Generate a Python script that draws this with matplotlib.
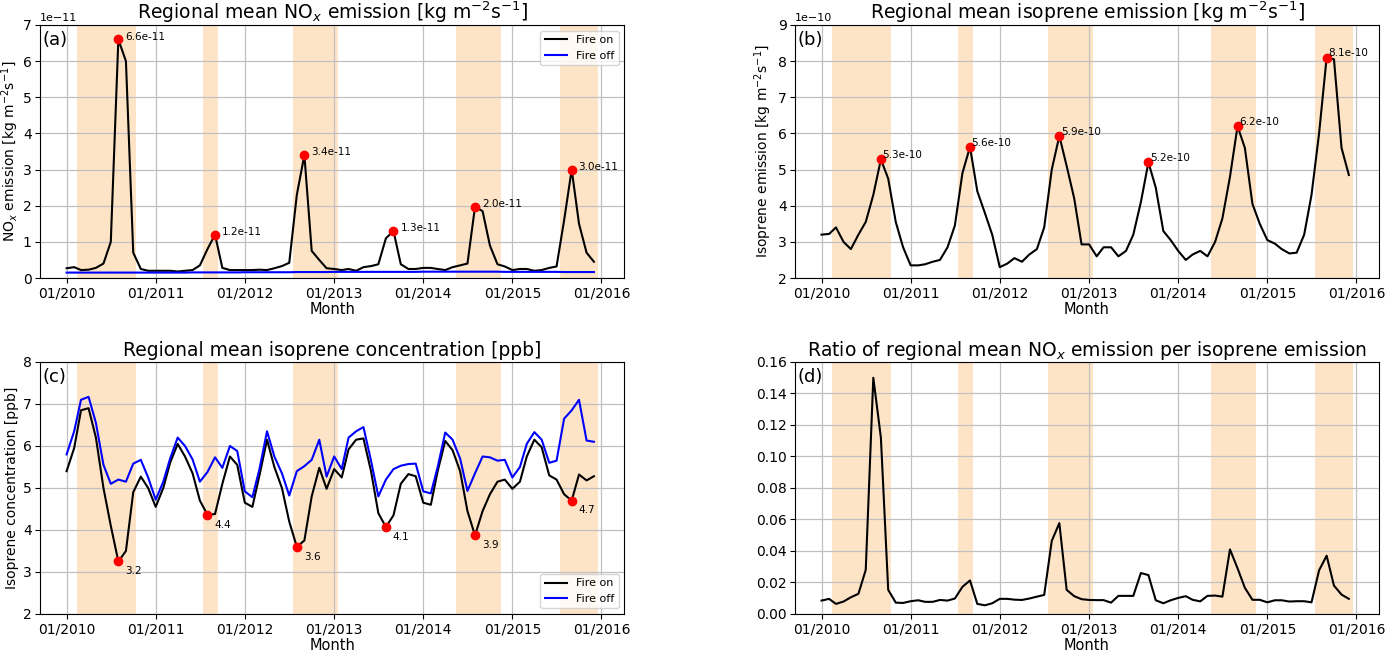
import matplotlib
matplotlib.use("Agg")
import matplotlib.pyplot as plt
import matplotlib.dates as mdates
import numpy as np
import pandas as pd

months = pd.date_range("2010-01-01", periods=72, freq="MS")

# NOx emission [1e-11 kg m-2 s-1]
nox_on = np.array([
    0.27, 0.30, 0.22, 0.23, 0.28, 0.40, 1.00, 6.60, 6.00, 0.70, 0.25, 0.20,
    0.20, 0.20, 0.20, 0.18, 0.20, 0.22, 0.35, 0.80, 1.20, 0.28, 0.22, 0.22,
    0.22, 0.22, 0.23, 0.22, 0.27, 0.33, 0.42, 2.30, 3.40, 0.75, 0.50, 0.27,
    0.25, 0.22, 0.25, 0.20, 0.30, 0.33, 0.38, 1.10, 1.30, 0.38, 0.25, 0.25,
    0.28, 0.28, 0.25, 0.22, 0.30, 0.35, 0.40, 1.97, 1.85, 0.90, 0.38, 0.32,
    0.22, 0.25, 0.25, 0.20, 0.22, 0.28, 0.32, 1.60, 3.00, 1.50, 0.70, 0.45]) * 1e-11
nox_off = np.array([
    0.15, 0.15, 0.15, 0.15, 0.15, 0.15, 0.15, 0.15, 0.15, 0.15, 0.15, 0.15,
    0.15, 0.15, 0.15, 0.15, 0.15, 0.155, 0.155, 0.155, 0.155, 0.155, 0.155, 0.155,
    0.16, 0.16, 0.16, 0.16, 0.16, 0.16, 0.16, 0.165, 0.165, 0.165, 0.165, 0.165,
    0.17, 0.17, 0.17, 0.17, 0.17, 0.17, 0.17, 0.17, 0.17, 0.17, 0.17, 0.17,
    0.175, 0.175, 0.175, 0.175, 0.175, 0.175, 0.175, 0.175, 0.175, 0.175, 0.175, 0.17,
    0.17, 0.17, 0.17, 0.17, 0.17, 0.17, 0.17, 0.165, 0.165, 0.165, 0.165, 0.165]) * 1e-11

# isoprene emission [1e-10 kg m-2 s-1]
isop_emis = np.array([
    3.20, 3.22, 3.40, 3.00, 2.80, 3.20, 3.55, 4.30, 5.28, 4.75, 3.55, 2.85,
    2.35, 2.35, 2.38, 2.45, 2.50, 2.85, 3.45, 4.90, 5.63, 4.40, 3.80, 3.20,
    2.30, 2.40, 2.55, 2.45, 2.65, 2.80, 3.40, 5.00, 5.93, 5.10, 4.20, 2.93,
    2.93, 2.60, 2.85, 2.85, 2.60, 2.75, 3.20, 4.10, 5.20, 4.50, 3.30, 3.05,
    2.75, 2.50, 2.65, 2.75, 2.60, 3.00, 3.65, 4.80, 6.20, 5.60, 4.05, 3.50,
    3.05, 2.95, 2.80, 2.68, 2.70, 3.20, 4.30, 6.00, 8.10, 8.05, 5.60, 4.85]) * 1e-10

# isoprene concentration [ppb]
conc_on = np.array([
    5.40, 5.95, 6.85, 6.90, 6.20, 5.00, 4.10, 3.25, 3.50, 4.90, 5.27, 5.00,
    4.55, 5.00, 5.60, 6.05, 5.75, 5.35, 4.70, 4.36, 4.38, 5.10, 5.75, 5.55,
    4.65, 4.55, 5.30, 6.15, 5.50, 5.00, 4.20, 3.60, 3.75, 4.80, 5.48, 4.98,
    5.45, 5.25, 5.92, 6.15, 6.18, 5.40, 4.40, 4.07, 4.35, 5.10, 5.33, 5.28,
    4.65, 4.60, 5.40, 6.12, 5.90, 5.40, 4.45, 3.87, 4.45, 4.85, 5.15, 5.20,
    4.98, 5.15, 5.75, 6.15, 5.97, 5.30, 5.20, 4.85, 4.70, 5.32, 5.18, 5.28])
conc_off = np.array([
    5.80, 6.35, 7.10, 7.17, 6.55, 5.55, 5.10, 5.20, 5.15, 5.58, 5.67, 5.25,
    4.72, 5.15, 5.70, 6.20, 6.00, 5.68, 5.15, 5.38, 5.73, 5.48, 6.00, 5.88,
    4.92, 4.78, 5.45, 6.35, 5.75, 5.35, 4.82, 5.40, 5.52, 5.67, 6.15, 5.27,
    5.75, 5.45, 6.20, 6.35, 6.45, 5.65, 4.80, 5.20, 5.45, 5.53, 5.57, 5.58,
    4.92, 4.87, 5.50, 6.32, 6.15, 5.70, 4.93, 5.35, 5.75, 5.73, 5.65, 5.67,
    5.25, 5.50, 6.05, 6.33, 6.15, 5.60, 5.65, 6.65, 6.85, 7.10, 6.13, 6.10])

# NOx / isoprene emission ratio
ratio = np.array([
    .0085, .0096, .0064, .0079, .0106, .0128, .0280, .1500, .1120, .0153, .0072, .0070,
    .0081, .0087, .0077, .0077, .0089, .0085, .0098, .0172, .0213, .0064, .0055, .0068,
    .0096, .0096, .0091, .0089, .0098, .0110, .0121, .0464, .0577, .0153, .0113, .0094,
    .0089, .0088, .0088, .0072, .0115, .0115, .0115, .0260, .0247, .0087, .0068, .0087,
    .0102, .0113, .0090, .0080, .0115, .0117, .0110, .0410, .0290, .0166, .0090, .0090,
    .0074, .0087, .0087, .0079, .0081, .0081, .0074, .0277, .0370, .0180, .0123, .0096])

# fire seasons (shaded)
fire_seasons = [("2010-02-14", "2010-10-14"), ("2011-07-15", "2011-09-15"),
                ("2012-07-15", "2013-01-16"), ("2014-05-16", "2014-11-16"),
                ("2015-07-16", "2015-12-16")]

nox_peaks = [7, 20, 32, 44, 55, 68]
isop_peaks = [8, 20, 32, 44, 56, 68]
conc_mins = [7, 19, 31, 43, 55, 68]

shade = "#FEE4C6"

fig = plt.figure(figsize=(13.86, 6.54), dpi=100)
ax_a = fig.add_axes([0.0289, 0.5749, 0.4214, 0.3869])
ax_b = fig.add_axes([0.5736, 0.5749, 0.4214, 0.3869])
ax_c = fig.add_axes([0.0289, 0.0612, 0.4214, 0.3853])
ax_d = fig.add_axes([0.5736, 0.0612, 0.4214, 0.3853])


def setup(ax, label, title):
    for start, end in fire_seasons:
        ax.axvspan(pd.Timestamp(start), pd.Timestamp(end), color=shade, lw=0)
    ax.grid(True, color="#c0c0c0", lw=0.9)
    ax.xaxis.set_major_locator(mdates.YearLocator())
    ax.xaxis.set_major_formatter(mdates.DateFormatter("%m/%Y"))
    ax.tick_params(labelsize=10, pad=2.5)
    ax.yaxis.get_offset_text().set_fontsize(8)
    ax.set_xlabel("Month", fontsize=10.5, labelpad=1)
    ax.set_title(title, fontsize=13.5, pad=4)
    ax.text(0.004, 0.94, label, transform=ax.transAxes, fontsize=13, va="center")


# (a)
setup(ax_a, "(a)", "Regional mean NO$_x$ emission [kg m$^{-2}$s$^{-1}$]")
ax_a.plot(months, nox_on, color="black", lw=1.5, label="Fire on")
ax_a.plot(months, nox_off, color="blue", lw=1.5, label="Fire off")
for i in nox_peaks:
    ax_a.plot(months[i], nox_on[i], "o", color="red", ms=6)
    ax_a.annotate(f"{nox_on[i]:.1e}", (months[i], nox_on[i]), xytext=(5, 2),
                  textcoords="offset points", fontsize=7.5, va="center")
ax_a.set_ylim(0, 7e-11)
ax_a.set_ylabel("NO$_x$ emission [kg m$^{-2}$s$^{-1}$]", fontsize=10, labelpad=1)
ax_a.legend(loc="upper right", fontsize=8)

# (b)
setup(ax_b, "(b)", "Regional mean isoprene emission [kg m$^{-2}$s$^{-1}$]")
ax_b.plot(months, isop_emis, color="black", lw=1.5)
for i in isop_peaks:
    ax_b.plot(months[i], isop_emis[i], "o", color="red", ms=6)
    ax_b.annotate(f"{isop_emis[i]:.1e}", (months[i], isop_emis[i]), xytext=(1, 3),
                  textcoords="offset points", fontsize=7.5, va="center")
ax_b.set_ylim(2e-10, 9e-10)
ax_b.set_ylabel("Isoprene emission [kg m$^{-2}$s$^{-1}$]", fontsize=10, labelpad=3)

# (c)
setup(ax_c, "(c)", "Regional mean isoprene concentration [ppb]")
ax_c.plot(months, conc_on, color="black", lw=1.5, label="Fire on")
ax_c.plot(months, conc_off, color="blue", lw=1.5, label="Fire off")
for i in conc_mins:
    ax_c.plot(months[i], conc_on[i], "o", color="red", ms=6)
    ax_c.annotate(f"{conc_on[i]:.1f}", (months[i], conc_on[i]), xytext=(5, -7),
                  textcoords="offset points", fontsize=7.5, va="center")
ax_c.set_ylim(2, 8)
ax_c.set_ylabel("Isoprene concentration [ppb]", fontsize=10, labelpad=3)
ax_c.legend(loc="lower right", fontsize=8)

# (d)
setup(ax_d, "(d)", "Ratio of regional mean NO$_x$ emission per isoprene emission")
ax_d.plot(months, ratio, color="black", lw=1.5)
ax_d.set_ylim(0, 0.16)

fig.savefig("out.png", dpi=100)
